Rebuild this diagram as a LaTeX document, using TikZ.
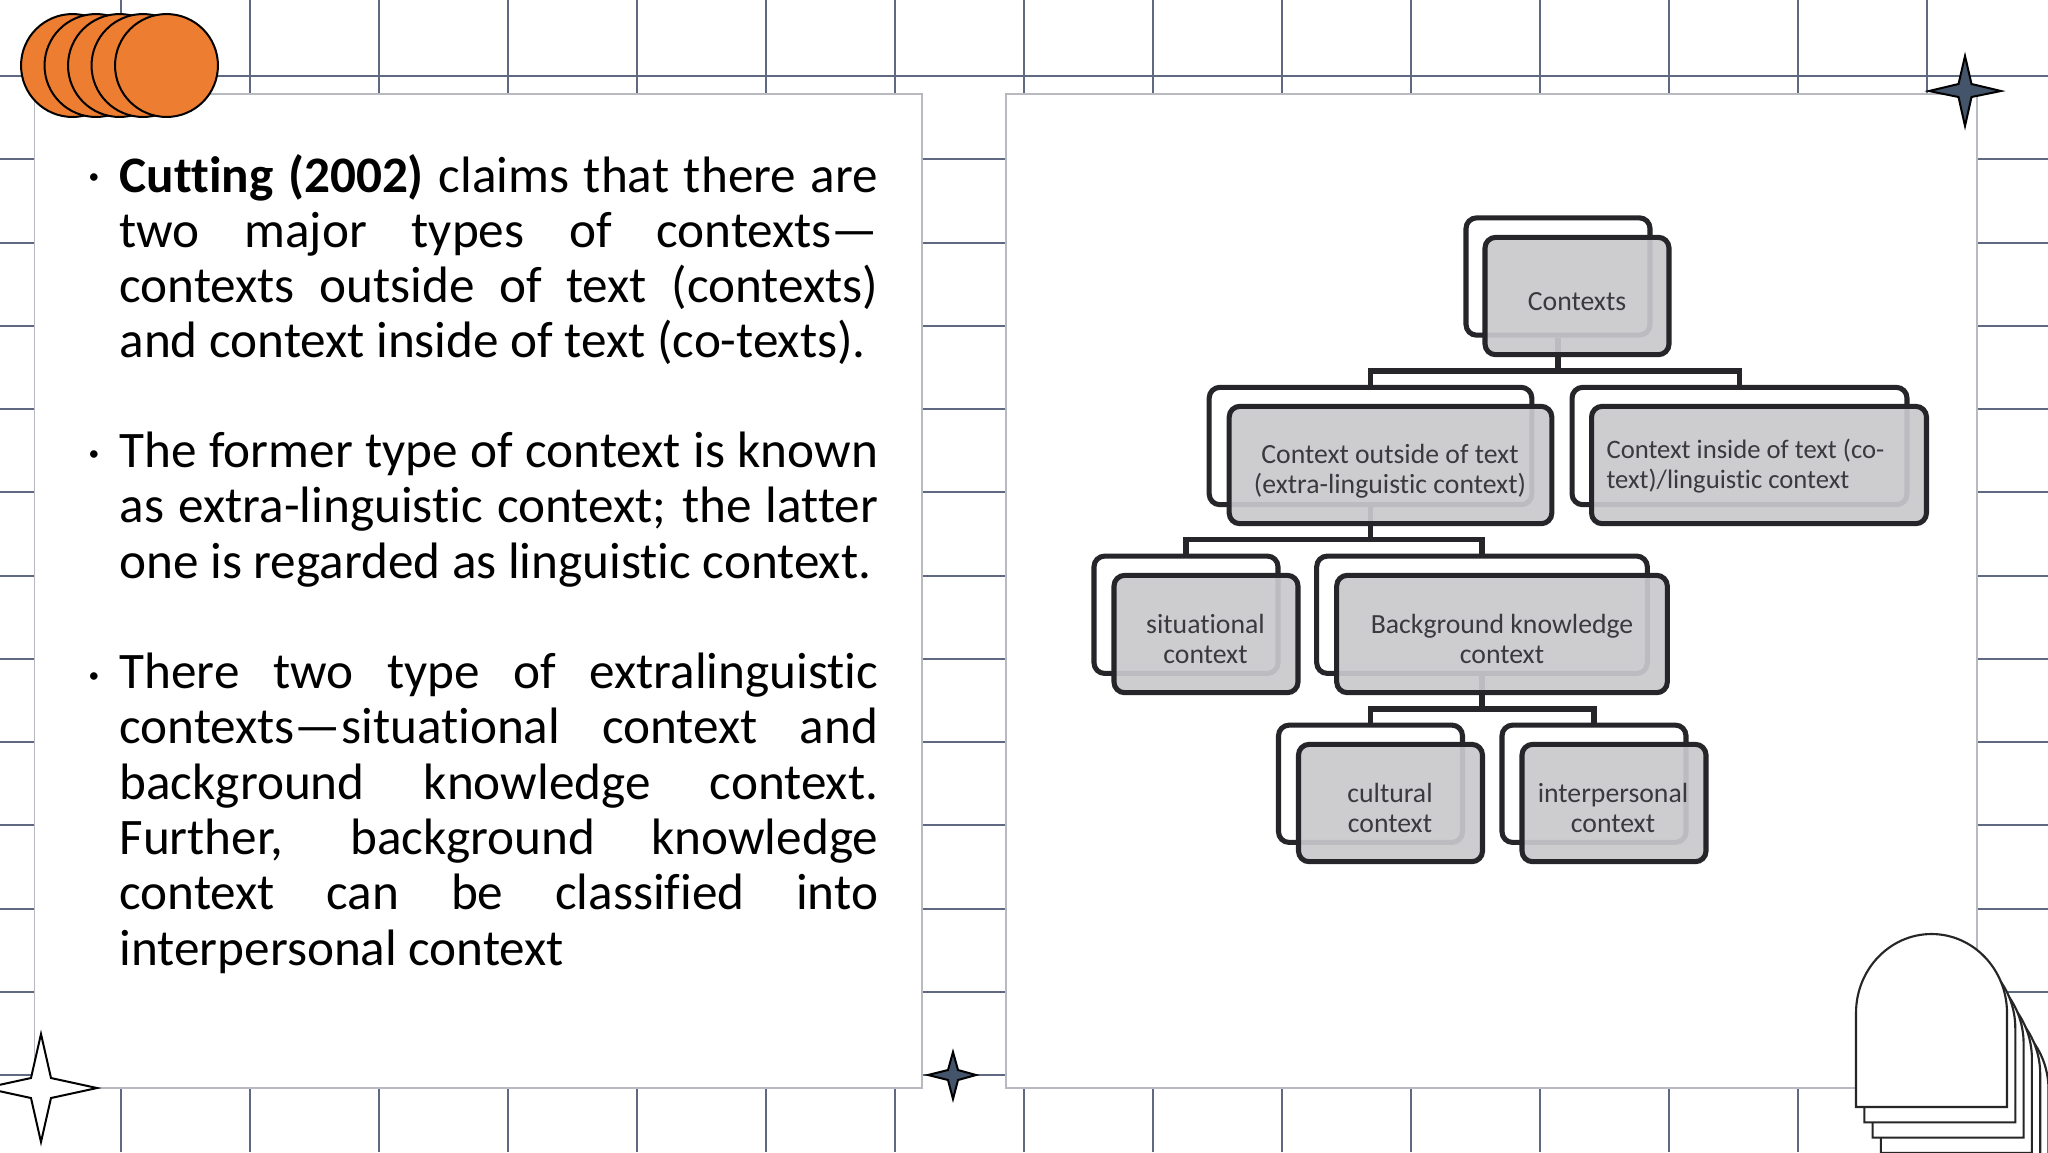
\documentclass[tikz,border=0pt]{standalone}
\usepackage{fontspec}
\setmainfont[Ligatures={NoCommon}]{Carlito}
\usetikzlibrary{calc}
\definecolor{gridc}{HTML}{5F6A82}
\definecolor{panelb}{HTML}{B9B9C2}
\definecolor{orangec}{HTML}{ED7D31}
\definecolor{starc}{HTML}{44546A}
\definecolor{boxl}{HTML}{26262A}
\definecolor{boxf}{HTML}{C9C9CD}
\definecolor{txtc}{HTML}{3A3A3E}
\tikzset{
  gridline/.style={draw=gridc,line width=0.75pt},
  panel/.style={draw=panelb,fill=white,line width=0.6pt},
  disc/.style={circle,draw=black,fill=orangec,line width=0.75pt,minimum size=38.6pt,inner sep=0pt},
  starp/.style={draw=black,line width=0.75pt,line join=miter},
  arch/.style={draw=black!85,fill=white,line width=0.8pt},
  backbox/.style={rectangle,rounded corners=4pt,draw=boxl,fill=white,line width=1.9pt,minimum height=44pt,inner sep=0pt},
  frontbox/.style={rectangle,rounded corners=4pt,draw=boxl,fill=boxf,fill opacity=.92,line width=1.9pt,minimum height=44pt,inner sep=0pt},
  conn/.style={draw=boxl,line width=1.9pt},
  lbl/.style={text=txtc,inner sep=0pt,font=\fontsize{10.4pt}{11.4pt}\selectfont,align=center},
  para/.style={anchor=north west,inner sep=0pt,text width=284.5pt,align=justify,font=\fontsize{19.2pt}{20.74pt}\selectfont},
  bul/.style={inner sep=0pt,font=\fontsize{8pt}{8pt}\selectfont}
}
\begin{document}
\begin{tikzpicture}[x=0.375pt,y=-0.375pt]
\useasboundingbox (0,0) rectangle (2048,1152);
\clip (0,0) rectangle (2048,1152);
\fill[white] (0,0) rectangle (2048,1152);
% grid
\foreach \gx in {121,250,379,508,637,766,895,1024,1153,1282,1411,1540,1669,1798,1927}
  \draw[gridline] (\gx,0) -- (\gx,1152);
\foreach \gy in {76,159.25,242.5,325.75,409,492.25,575.5,658.75,742,825.25,908.5,991.75,1075}
  \draw[gridline] (0,\gy) -- (2048,\gy);
% panels
\draw[panel] (34.5,94) rectangle (922,1088);
\draw[panel] (1006,94) rectangle (1977,1088);
% discs
\node[disc] (d1) at (72.5,65.5) {};
\node[disc] (d2) at (96,65.5) {};
\node[disc] (d3) at (119.5,65.5) {};
\node[disc] (d4) at (143,65.5) {};
\node[disc] (d5) at (166.5,65.5) {};
% stars
\draw[starp,fill=white] (41,1034) -- (51,1078) -- (97,1088) -- (51,1098) -- (41,1142) -- (31,1098) -- (-15,1088) -- (31,1078) -- cycle;
\draw[starp,fill=starc] (953,1052) -- (958,1070) -- (976,1075) -- (958,1080) -- (953,1099) -- (948,1080) -- (928,1075) -- (948,1070) -- cycle;
\draw[starp,fill=starc] (1965,56) -- (1971.5,84) -- (2001,91) -- (1971.5,97) -- (1965,126) -- (1958.5,97) -- (1929,91) -- (1958.5,84) -- cycle;
% arches
\foreach \k in {5,4,3,2,1,0}
  \draw[arch] ({1856+8.3*\k},{1107+15.3*\k}) -- ({1856+8.3*\k},{1013+15.3*\k})
     arc[start angle=180,end angle=360,x radius=75.5,y radius=79]
     -- ({2007+8.3*\k},{1107+15.3*\k}) -- cycle;
% left text
\node[bul] (b1) at (94,179) {•};
\node[bul] (b2) at (94,456) {•};
\node[bul] (b3) at (94,678) {•};
\node[para] (p1) at (119,153.5) {\textbf{Cutting (2002)} claims that there are\linebreak two major types of contexts—\linebreak contexts outside of text (contexts)\linebreak and context inside of text (co-texts).};
\node[para] (p2) at (119,431.5) {The former type of context is known\linebreak as extra-linguistic context; the latter\linebreak one is regarded as linguistic context.};
\node[para] (p3) at (119,652.5) {There two type of extralinguistic\linebreak contexts—situational context and\linebreak background knowledge context.\linebreak Further, background knowledge\linebreak context can be classified into\linebreak interpersonal context};
% back boxes
\node[backbox,minimum width=69pt]  (ctxB) at (1558,276.5) {};
\node[backbox,minimum width=121pt] (outB) at (1370.5,446) {};
\node[backbox,minimum width=125.6pt] (inB) at (1739.5,446) {};
\node[backbox,minimum width=69pt]  (sitB) at (1186,614.75) {};
\node[backbox,minimum width=124pt] (bgB) at (1482,614.75) {};
\node[backbox,minimum width=69pt]  (culB) at (1370.5,783.75) {};
\node[backbox,minimum width=69pt]  (intB) at (1594,783.75) {};
% connectors
\coordinate (bar1) at (1558,371);
\coordinate (bar2) at (1370.5,539.5);
\coordinate (bar3) at (1482,709);
\draw[conn] (ctxB.south) -- (bar1) -| (outB.north);
\draw[conn] (bar1) -| (inB.north);
\draw[conn] (outB.south) -- (bar2) -| (sitB.north);
\draw[conn] (bar2) -| (bgB.north);
\draw[conn] (bgB.south) -- (bar3) -| (culB.north);
\draw[conn] (bar3) -| (intB.north);
% front boxes
\node[frontbox,minimum width=69pt]  (ctxF) at (1577,296) {};
\node[frontbox,minimum width=121pt] (outF) at (1390.5,465) {};
\node[frontbox,minimum width=125.6pt] (inF) at (1759,465) {};
\node[frontbox,minimum width=69pt]  (sitF) at (1206,634) {};
\node[frontbox,minimum width=124pt] (bgF) at (1502,634) {};
\node[frontbox,minimum width=69pt]  (culF) at (1390.5,803) {};
\node[frontbox,minimum width=69pt]  (intF) at (1614,803) {};
% labels
\node[lbl] (ctxT) at (1577,302) {Contexts};
\node[lbl] (outT) at (1390,471) {Context outside of text\\(extra-linguistic context)};
\node[lbl,align=left,anchor=west,font=\fontsize{10pt}{11.4pt}\selectfont] (inT) at (1606,466) {Context inside of text (co-\\text)/linguistic context};
\node[lbl] (sitT) at (1205.5,639) {situational\\context};
\node[lbl] (bgT) at (1502,639) {Background knowledge\\context};
\node[lbl] (culT) at (1390,808) {cultural\\context};
\node[lbl] (intT) at (1613,808) {interpersonal\\context};
\end{tikzpicture}
\end{document}
